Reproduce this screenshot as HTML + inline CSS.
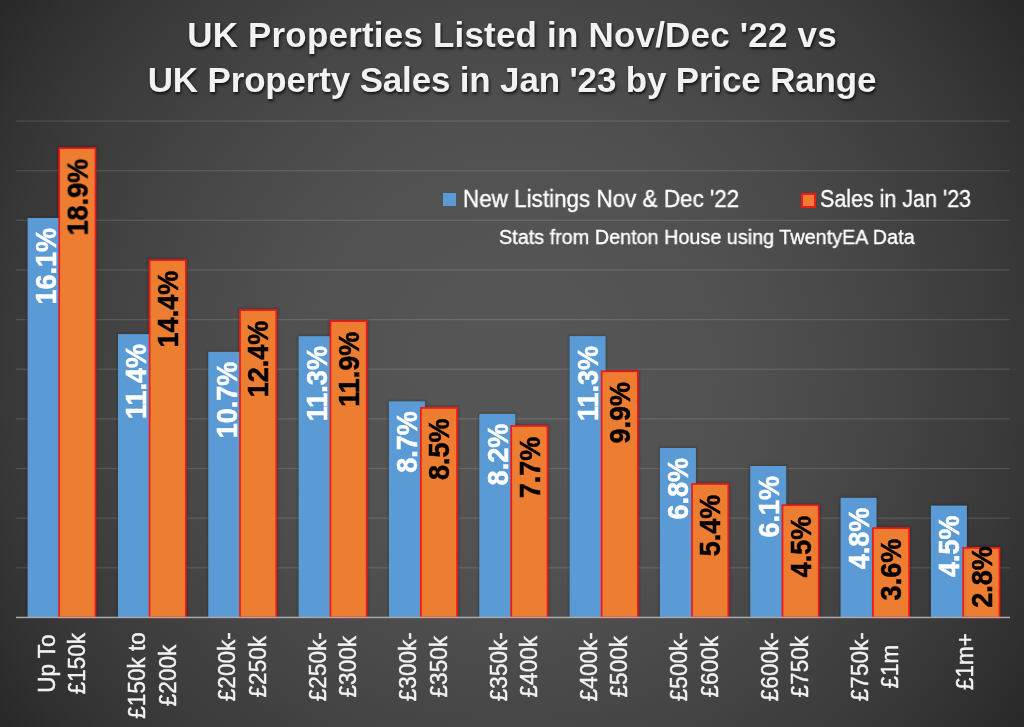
<!DOCTYPE html>
<html><head><meta charset="utf-8"><style>
html,body{margin:0;padding:0;}
body{width:1024px;height:727px;overflow:hidden;position:relative;
background: radial-gradient(circle 627px at 512px 363.5px, rgb(86,86,86) 0px, rgb(86,86,86) 63px, rgb(84,84,84) 125px, rgb(82,82,82) 188px, rgb(79,79,79) 251px, rgb(74,74,74) 314px, rgb(69,69,69) 376px, rgb(63,63,63) 439px, rgb(57,57,57) 502px, rgb(49,49,49) 564px, rgb(40,40,40) 627px);}
svg{position:absolute;left:0;top:0;will-change:transform;}
.dl{font-family:"Liberation Sans",sans-serif;font-weight:bold;font-size:28.6px;stroke-width:0.5px;}
.cl{font-family:"Liberation Sans",sans-serif;font-size:24.0px;fill:#f2f2f2;stroke:#f2f2f2;stroke-width:0.45px;}
.t{position:absolute;left:0;width:1024px;text-align:center;font-family:"Liberation Sans",sans-serif;font-weight:bold;font-size:35px;color:#f2f2f2;text-shadow:1px 1.5px 3px rgba(0,0,0,0.75);will-change:transform;white-space:nowrap;line-height:40px;}
.lg{position:absolute;will-change:transform;-webkit-text-stroke:0.35px #ffffff;font-family:"Liberation Sans",sans-serif;font-size:22px;color:#ffffff;white-space:nowrap;line-height:26px;}
</style></head><body>
<svg width="1024" height="727" viewBox="0 0 1024 727">
<defs><filter id="sh" x="-20%" y="-5%" width="140%" height="110%"><feGaussianBlur stdDeviation="0.8"/></filter></defs>
<rect x="16" y="567.21" width="994" height="1.2" fill="#ffffff" fill-opacity="0.13"/>
<rect x="16" y="517.57" width="994" height="1.2" fill="#ffffff" fill-opacity="0.13"/>
<rect x="16" y="467.93" width="994" height="1.2" fill="#ffffff" fill-opacity="0.13"/>
<rect x="16" y="418.29" width="994" height="1.2" fill="#ffffff" fill-opacity="0.13"/>
<rect x="16" y="368.65" width="994" height="1.2" fill="#ffffff" fill-opacity="0.13"/>
<rect x="16" y="319.01" width="994" height="1.2" fill="#ffffff" fill-opacity="0.13"/>
<rect x="16" y="269.37" width="994" height="1.2" fill="#ffffff" fill-opacity="0.13"/>
<rect x="16" y="219.73" width="994" height="1.2" fill="#ffffff" fill-opacity="0.13"/>
<rect x="16" y="170.09" width="994" height="1.2" fill="#ffffff" fill-opacity="0.13"/>
<rect x="16" y="120.45" width="994" height="1.2" fill="#ffffff" fill-opacity="0.13"/>
<rect x="57.36" y="146.30" width="40.0" height="471.15" fill="#000" fill-opacity="0.22" filter="url(#sh)"/>
<rect x="26.60" y="217.00" width="38.0" height="400.45" fill="#000" fill-opacity="0.22" filter="url(#sh)"/>
<rect x="27.60" y="218.00" width="36.0" height="399.45" fill="#5b9bd5"/>
<rect x="59.23" y="148.18" width="36.25" height="469.28" fill="#ed7d31" stroke="#f01818" stroke-width="1.75"/>
<text transform="translate(55.90,227.90) rotate(-90) scale(0.945,1)" text-anchor="end" class="dl" fill="#ffffff" stroke="#ffffff">16.1%</text>
<text transform="translate(87.66,158.80) rotate(-90) scale(0.945,1)" text-anchor="end" class="dl" fill="#000000" stroke="#000000">18.9%</text>
<rect x="147.76" y="258.30" width="40.0" height="359.15" fill="#000" fill-opacity="0.22" filter="url(#sh)"/>
<rect x="116.93" y="333.10" width="38.0" height="284.35" fill="#000" fill-opacity="0.22" filter="url(#sh)"/>
<rect x="117.93" y="334.10" width="36.0" height="283.35" fill="#5b9bd5"/>
<rect x="149.63" y="260.18" width="36.25" height="357.28" fill="#ed7d31" stroke="#f01818" stroke-width="1.75"/>
<text transform="translate(146.23,344.00) rotate(-90) scale(0.945,1)" text-anchor="end" class="dl" fill="#ffffff" stroke="#ffffff">11.4%</text>
<text transform="translate(178.06,270.80) rotate(-90) scale(0.945,1)" text-anchor="end" class="dl" fill="#000000" stroke="#000000">14.4%</text>
<rect x="238.16" y="308.20" width="40.0" height="309.25" fill="#000" fill-opacity="0.22" filter="url(#sh)"/>
<rect x="207.26" y="350.80" width="38.0" height="266.65" fill="#000" fill-opacity="0.22" filter="url(#sh)"/>
<rect x="208.26" y="351.80" width="36.0" height="265.65" fill="#5b9bd5"/>
<rect x="240.04" y="310.07" width="36.25" height="307.38" fill="#ed7d31" stroke="#f01818" stroke-width="1.75"/>
<text transform="translate(236.56,361.70) rotate(-90) scale(0.945,1)" text-anchor="end" class="dl" fill="#ffffff" stroke="#ffffff">10.7%</text>
<text transform="translate(268.46,320.70) rotate(-90) scale(0.945,1)" text-anchor="end" class="dl" fill="#000000" stroke="#000000">12.4%</text>
<rect x="328.56" y="319.20" width="40.0" height="298.25" fill="#000" fill-opacity="0.22" filter="url(#sh)"/>
<rect x="297.59" y="335.20" width="38.0" height="282.25" fill="#000" fill-opacity="0.22" filter="url(#sh)"/>
<rect x="298.59" y="336.20" width="36.0" height="281.25" fill="#5b9bd5"/>
<rect x="330.44" y="321.07" width="36.25" height="296.38" fill="#ed7d31" stroke="#f01818" stroke-width="1.75"/>
<text transform="translate(326.89,346.10) rotate(-90) scale(0.945,1)" text-anchor="end" class="dl" fill="#ffffff" stroke="#ffffff">11.3%</text>
<text transform="translate(358.86,331.70) rotate(-90) scale(0.945,1)" text-anchor="end" class="dl" fill="#000000" stroke="#000000">11.9%</text>
<rect x="418.96" y="406.00" width="40.0" height="211.45" fill="#000" fill-opacity="0.22" filter="url(#sh)"/>
<rect x="387.92" y="400.30" width="38.0" height="217.15" fill="#000" fill-opacity="0.22" filter="url(#sh)"/>
<rect x="388.92" y="401.30" width="36.0" height="216.15" fill="#5b9bd5"/>
<rect x="420.84" y="407.88" width="36.25" height="209.58" fill="#ed7d31" stroke="#f01818" stroke-width="1.75"/>
<text transform="translate(417.22,411.20) rotate(-90) scale(0.945,1)" text-anchor="end" class="dl" fill="#ffffff" stroke="#ffffff">8.7%</text>
<text transform="translate(449.26,418.50) rotate(-90) scale(0.945,1)" text-anchor="end" class="dl" fill="#000000" stroke="#000000">8.5%</text>
<rect x="509.36" y="424.10" width="40.0" height="193.35" fill="#000" fill-opacity="0.22" filter="url(#sh)"/>
<rect x="478.25" y="412.90" width="38.0" height="204.55" fill="#000" fill-opacity="0.22" filter="url(#sh)"/>
<rect x="479.25" y="413.90" width="36.0" height="203.55" fill="#5b9bd5"/>
<rect x="511.24" y="425.98" width="36.25" height="191.48" fill="#ed7d31" stroke="#f01818" stroke-width="1.75"/>
<text transform="translate(507.55,423.80) rotate(-90) scale(0.945,1)" text-anchor="end" class="dl" fill="#ffffff" stroke="#ffffff">8.2%</text>
<text transform="translate(539.66,436.60) rotate(-90) scale(0.945,1)" text-anchor="end" class="dl" fill="#000000" stroke="#000000">7.7%</text>
<rect x="599.76" y="369.40" width="40.0" height="248.05" fill="#000" fill-opacity="0.22" filter="url(#sh)"/>
<rect x="568.58" y="335.10" width="38.0" height="282.35" fill="#000" fill-opacity="0.22" filter="url(#sh)"/>
<rect x="569.58" y="336.10" width="36.0" height="281.35" fill="#5b9bd5"/>
<rect x="601.64" y="371.27" width="36.25" height="246.18" fill="#ed7d31" stroke="#f01818" stroke-width="1.75"/>
<text transform="translate(597.88,346.00) rotate(-90) scale(0.945,1)" text-anchor="end" class="dl" fill="#ffffff" stroke="#ffffff">11.3%</text>
<text transform="translate(630.06,381.90) rotate(-90) scale(0.945,1)" text-anchor="end" class="dl" fill="#000000" stroke="#000000">9.9%</text>
<rect x="690.16" y="482.10" width="40.0" height="135.35" fill="#000" fill-opacity="0.22" filter="url(#sh)"/>
<rect x="658.91" y="447.00" width="38.0" height="170.45" fill="#000" fill-opacity="0.22" filter="url(#sh)"/>
<rect x="659.91" y="448.00" width="36.0" height="169.45" fill="#5b9bd5"/>
<rect x="692.04" y="483.98" width="36.25" height="133.48" fill="#ed7d31" stroke="#f01818" stroke-width="1.75"/>
<text transform="translate(688.21,457.90) rotate(-90) scale(0.945,1)" text-anchor="end" class="dl" fill="#ffffff" stroke="#ffffff">6.8%</text>
<text transform="translate(720.46,494.60) rotate(-90) scale(0.945,1)" text-anchor="end" class="dl" fill="#000000" stroke="#000000">5.4%</text>
<rect x="780.56" y="503.30" width="40.0" height="114.15" fill="#000" fill-opacity="0.22" filter="url(#sh)"/>
<rect x="749.24" y="465.00" width="38.0" height="152.45" fill="#000" fill-opacity="0.22" filter="url(#sh)"/>
<rect x="750.24" y="466.00" width="36.0" height="151.45" fill="#5b9bd5"/>
<rect x="782.44" y="505.18" width="36.25" height="112.28" fill="#ed7d31" stroke="#f01818" stroke-width="1.75"/>
<text transform="translate(778.54,475.90) rotate(-90) scale(0.945,1)" text-anchor="end" class="dl" fill="#ffffff" stroke="#ffffff">6.1%</text>
<text transform="translate(810.86,515.80) rotate(-90) scale(0.945,1)" text-anchor="end" class="dl" fill="#000000" stroke="#000000">4.5%</text>
<rect x="870.96" y="526.30" width="40.0" height="91.15" fill="#000" fill-opacity="0.22" filter="url(#sh)"/>
<rect x="839.57" y="496.80" width="38.0" height="120.65" fill="#000" fill-opacity="0.22" filter="url(#sh)"/>
<rect x="840.57" y="497.80" width="36.0" height="119.65" fill="#5b9bd5"/>
<rect x="872.84" y="528.17" width="36.25" height="89.28" fill="#ed7d31" stroke="#f01818" stroke-width="1.75"/>
<text transform="translate(868.87,507.70) rotate(-90) scale(0.945,1)" text-anchor="end" class="dl" fill="#ffffff" stroke="#ffffff">4.8%</text>
<text transform="translate(901.26,538.80) rotate(-90) scale(0.945,1)" text-anchor="end" class="dl" fill="#000000" stroke="#000000">3.6%</text>
<rect x="961.36" y="546.00" width="40.0" height="71.45" fill="#000" fill-opacity="0.22" filter="url(#sh)"/>
<rect x="929.90" y="504.60" width="38.0" height="112.85" fill="#000" fill-opacity="0.22" filter="url(#sh)"/>
<rect x="930.90" y="505.60" width="36.0" height="111.85" fill="#5b9bd5"/>
<rect x="963.24" y="547.88" width="36.25" height="69.58" fill="#ed7d31" stroke="#f01818" stroke-width="1.75"/>
<text transform="translate(959.20,515.50) rotate(-90) scale(0.945,1)" text-anchor="end" class="dl" fill="#ffffff" stroke="#ffffff">4.5%</text>
<text transform="translate(991.66,546.25) rotate(-90) scale(0.945,1)" text-anchor="end" class="dl" fill="#000000" stroke="#000000">2.8%</text>
<rect x="16" y="616.70" width="994" height="1.5" fill="#a8a8a8"/>
<text transform="translate(54.75,663.60) rotate(-90) scale(0.9375,1)" text-anchor="middle" class="cl">Up To</text>
<text transform="translate(85.15,663.60) rotate(-90) scale(0.9375,1)" text-anchor="middle" class="cl">£150k</text>
<text transform="translate(145.11,675.50) rotate(-90) scale(0.9375,1)" text-anchor="middle" class="cl">£150k to</text>
<text transform="translate(175.51,675.50) rotate(-90) scale(0.9375,1)" text-anchor="middle" class="cl">£200k</text>
<text transform="translate(235.47,666.75) rotate(-90) scale(0.9375,1)" text-anchor="middle" class="cl">£200k-</text>
<text transform="translate(265.87,666.75) rotate(-90) scale(0.9375,1)" text-anchor="middle" class="cl">£250k</text>
<text transform="translate(325.83,666.75) rotate(-90) scale(0.9375,1)" text-anchor="middle" class="cl">£250k-</text>
<text transform="translate(356.23,666.75) rotate(-90) scale(0.9375,1)" text-anchor="middle" class="cl">£300k</text>
<text transform="translate(416.19,666.75) rotate(-90) scale(0.9375,1)" text-anchor="middle" class="cl">£300k-</text>
<text transform="translate(446.59,666.75) rotate(-90) scale(0.9375,1)" text-anchor="middle" class="cl">£350k</text>
<text transform="translate(506.55,666.75) rotate(-90) scale(0.9375,1)" text-anchor="middle" class="cl">£350k-</text>
<text transform="translate(536.95,666.75) rotate(-90) scale(0.9375,1)" text-anchor="middle" class="cl">£400k</text>
<text transform="translate(596.91,666.75) rotate(-90) scale(0.9375,1)" text-anchor="middle" class="cl">£400k-</text>
<text transform="translate(627.31,666.75) rotate(-90) scale(0.9375,1)" text-anchor="middle" class="cl">£500k</text>
<text transform="translate(687.27,666.75) rotate(-90) scale(0.9375,1)" text-anchor="middle" class="cl">£500k-</text>
<text transform="translate(717.67,666.75) rotate(-90) scale(0.9375,1)" text-anchor="middle" class="cl">£600k</text>
<text transform="translate(777.63,666.75) rotate(-90) scale(0.9375,1)" text-anchor="middle" class="cl">£600k-</text>
<text transform="translate(808.03,666.75) rotate(-90) scale(0.9375,1)" text-anchor="middle" class="cl">£750k</text>
<text transform="translate(867.99,666.75) rotate(-90) scale(0.9375,1)" text-anchor="middle" class="cl">£750k-</text>
<text transform="translate(898.39,666.75) rotate(-90) scale(0.9375,1)" text-anchor="middle" class="cl">£1m</text>
<text transform="translate(973.35,661.60) rotate(-90) scale(0.9375,1)" text-anchor="middle" class="cl">£1m+</text>
</svg>
<div class="t" style="top:14.5px;letter-spacing:0.19px">UK Properties Listed in Nov/Dec '22 vs</div>
<div class="t" style="top:59.7px;letter-spacing:-0.17px">UK Property Sales in Jan '23 by Price Range</div>
<div style="position:absolute;left:443px;top:193px;width:13px;height:13px;background:#5b9bd5"></div>
<div class="lg" style="left:463px;top:185.5px;font-size:23.1px;transform:scaleX(0.972);transform-origin:0 0">New Listings Nov &amp; Dec '22</div>
<div style="position:absolute;left:801px;top:193px;width:11px;height:11px;background:#ed7d31;border:2px solid #f01818"></div>
<div class="lg" style="left:820px;top:185.5px;font-size:23.1px;transform:scaleX(0.93);transform-origin:0 0">Sales in Jan '23</div>
<div class="lg" style="left:499px;top:224px;font-size:20px;transform:scaleX(0.99);transform-origin:0 0">Stats from Denton House using TwentyEA Data</div>
</body></html>
